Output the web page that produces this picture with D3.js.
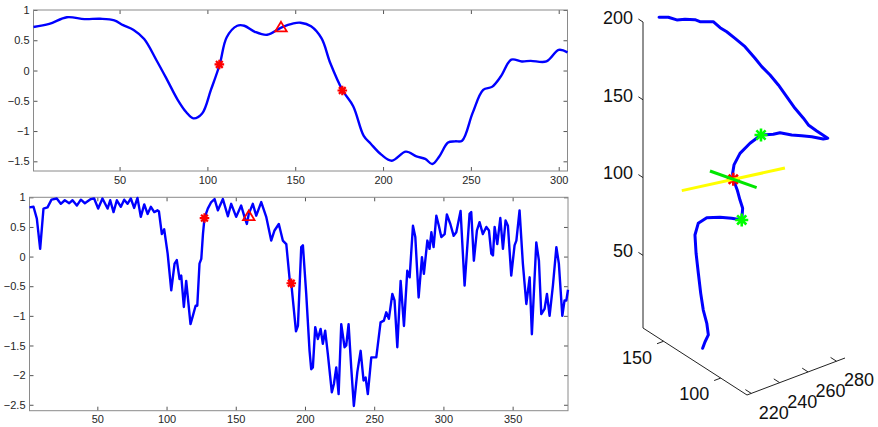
<!DOCTYPE html>
<html>
<head>
<meta charset="utf-8">
<script src="https://d3js.org/d3.v7.min.js"></script>
<style>
  body { margin: 0; background: #fff; }
  svg { font-family: "Liberation Sans", Arial, sans-serif; }
</style>
</head>
<body>
<div id="chart"></div>
<script>
// top panel: smoothed signal
const topX = [1, 10, 20, 30, 39, 47, 52, 58, 64, 71, 77, 83, 88, 92, 97, 102, 107, 111, 117, 121, 127, 134, 142, 149, 153, 159, 165, 170, 177, 183, 189, 193, 199, 205, 213, 219, 224, 228, 232, 237, 241, 245, 251, 257, 262, 267, 273, 279, 284, 293, 300, 305];
const topY = [0.72, 0.77, 0.88, 0.85, 0.855, 0.83, 0.75, 0.67, 0.52, 0.17, -0.15, -0.48, -0.69, -0.79, -0.71, -0.32, 0.1, 0.55, 0.74, 0.74, 0.64, 0.59, 0.71, 0.78, 0.79, 0.73, 0.53, 0.12, -0.33, -0.59, -1.08, -1.21, -1.39, -1.49, -1.34, -1.42, -1.46, -1.545, -1.42, -1.19, -1.17, -1.16, -0.70, -0.32, -0.27, -0.10, 0.18, 0.15, 0.16, 0.15, 0.34, 0.30];
const topStars = [[106.8, 0.10], [176.8, -0.33]];
const topTri = [[141.9, 0.71]];
const topXTicks = [50, 100, 150, 200, 250, 300];
const topYTicks = [-1.5, -1, -0.5, 0, 0.5, 1];

// bottom panel: raw signal
const botX = [1, 3.9, 6.3, 8.7, 11.1, 14, 16.9, 20.7, 23.6, 26.5, 29.7, 32.1, 35.2, 38.1, 41, 45.3, 47.7, 50.6, 53.7, 57.4, 59.3, 61.7, 64.1, 67, 69.4, 71.8, 74.2, 76.6, 79, 81.4, 83.9, 86.3, 88.7, 91.1, 93.5, 94.5, 96.6, 98.3, 100.8, 103.4, 105.8, 107.4, 109.4, 110.6, 112.5, 114.2, 117.3, 119, 121, 122.2, 123.8, 125.1, 126.3, 127.4, 129.8, 132.3, 134.7, 137.1, 140.7, 144.3, 146.7, 150.3, 153.9, 156.3, 158, 159.4, 162.3, 164.8, 168.4, 172, 175.6, 178, 181.1, 184, 186.5, 189, 190.1, 193.5, 194.9, 197.3, 198.5, 200.9, 203.3, 204.5, 205.7, 207.4, 209.3, 211.3, 212.9, 214.6, 216.5, 219.4, 220.9, 222.6, 224.3, 226.2, 228.6, 229.8, 231.5, 233.4, 235.3, 237.8, 240.2, 242.3, 243.8, 245.4, 247.9, 251.5, 254.6, 257, 258.7, 260.6, 263.1, 264.7, 266.7, 269.1, 271.5, 273.9, 275.6, 278, 279.7, 282.1, 284.5, 285.9, 288.4, 290, 291.3, 292.9, 294.9, 296.7, 298.5, 300.9, 302.5, 305, 307.4, 309.3, 312.4, 315.3, 318.9, 320.1, 322, 324.2, 326.1, 328.5, 331, 332.9, 334.6, 335.8, 337, 338.9, 341.1, 343, 344.9, 346.6, 349, 351.4, 352.7, 355, 357.4, 359.9, 362.3, 363.9, 367.1, 369, 370.7, 373.1, 374.8, 376.7, 379.1, 381.6, 383.4, 385.9, 387.5, 388.8, 390];
const botY = [0.83, 0.84, 0.64, 0.13, 0.81, 0.83, 0.96, 0.98, 0.89, 0.95, 0.90, 0.95, 0.86, 0.96, 0.90, 0.97, 0.98, 0.81, 0.98, 0.81, 0.95, 0.75, 0.95, 0.84, 0.96, 0.89, 0.98, 0.82, 0.99, 0.67, 0.88, 0.72, 0.84, 0.75, 0.78, 0.76, 0.38, 0.46, 0.05, -0.57, -0.12, -0.06, -0.38, -0.32, -0.85, -0.41, -1.14, -1.0, -0.83, -0.83, -0.12, -0.04, 0.38, 0.65, 0.81, 0.92, 0.97, 0.78, 0.97, 0.68, 0.89, 0.67, 0.86, 0.67, 0.55, 0.72, 0.89, 0.69, 0.92, 0.67, 0.27, 0.44, 0.55, 0.27, 0.21, -0.40, -0.45, -1.26, -1.17, 0.16, 0.19, -0.63, -1.59, -1.90, -1.87, -1.19, -1.39, -1.22, -1.47, -1.25, -1.64, -2.29, -2.15, -1.87, -2.32, -1.14, -1.53, -1.50, -1.14, -1.87, -2.52, -1.95, -1.59, -2.09, -2.04, -2.32, -1.70, -1.70, -1.11, -1.08, -0.94, -1.05, -0.63, -0.74, -1.53, -0.41, -1.17, -0.24, -0.35, 0.52, 0.33, -0.69, -0.01, -0.29, 0.27, 0.13, 0.41, 0.16, 0.69, 0.52, 0.33, 0.38, 0.71, 0.55, 0.35, 0.41, 0.77, -0.49, 0.72, 0.75, -0.07, 0.44, 0.58, 0.38, 0.50, 0.44, 0.05, 0.02, 0.50, 0.21, 0.65, 0.13, 0.61, 0.52, -0.32, 0.19, 0.27, 0.78, -0.12, -0.80, -0.35, -1.31, 0.24, -0.07, -0.97, -0.88, -0.63, -1.0, -0.49, 0.16, -0.12, -1.0, -0.74, -0.74, -0.56];
const botStars = [[127.4, 0.65], [190.1, -0.45]];
const botTri = [[159.4, 0.68]];
const botXTicks = [50, 100, 150, 200, 250, 300, 350];
const botYTicks = [-2.5, -2, -1.5, -1, -0.5, 0, 0.5, 1];

// right panel: 3d trajectory
const trajX = [228.3, 234.8, 240.4, 246.0, 252.7, 256.0, 265.0, 266.3, 267.5, 269.0, 270.8, 272.6, 273.9, 275.4, 276.9, 278.4, 279.9, 281.5, 282.4, 283.9, 284.8, 285.9, 284.3, 277.6, 272.0, 266.5, 259.7, 256.5, 249.3, 243.1, 237.5, 234.8, 235.3, 237.2, 241.5, 244.9, 248.3, 249.1, 243.5, 236.8, 228.9, 223.3, 221.4, 222.5, 224.5, 226.5, 228.7, 231.5, 233.0, 231.0, 229.7];
const trajY = [168.0, 168.0, 167.5, 167.3, 166.9, 166.6, 166.2, 161.8, 157.5, 152.1, 145.6, 139.1, 134.8, 129.4, 124.0, 118.6, 113.2, 107.8, 104.6, 99.1, 95.9, 92.0, 93.9, 95.7, 97.5, 99.4, 101.2, 103.1, 104.9, 106.8, 108.6, 110.5, 112.3, 114.1, 116.0, 117.8, 119.7, 121.5, 123.4, 125.2, 127.0, 127.5, 128.0, 128.4, 128.9, 129.3, 129.8, 130.2, 130.7, 131.1, 131.6];
const trajZ = [199.1, 196.9, 193.5, 192.1, 189.7, 187.4, 184.5, 182.3, 181.3, 179.1, 176.2, 171.2, 167.4, 164.1, 159.7, 154.2, 148.8, 144.4, 141.3, 139.5, 138.6, 137.5, 136.7, 139.6, 141.3, 142.8, 145.7, 144.9, 146.1, 142.0, 136.6, 129.2, 122.8, 117.4, 108.2, 99.7, 92.3, 83.7, 85.8, 87.9, 89.5, 87.6, 80.5, 68.2, 54.4, 40.6, 28.9, 19.2, 11.0, 7.1, 3.1];
const greenStars3 = [[249.3, 104.9, 146.1], [249.1, 121.5, 83.7]];
const redStar3 = [[237.2, 114.1, 117.4]];
const yellowSeg = [[220.5, 138.4, 104.4], [254.0, 89.8, 130.4]];
const greenSeg = [[232.6, 128.8, 117.4], [241.9, 99.5, 117.4]];
const xTicks3 = [220, 240, 260, 280];
const yTicks3 = [100, 150];
const zTicks3 = [50, 100, 150, 200];

const W = 878, H = 427;
const svg = d3.select("#chart").append("svg").attr("width", W).attr("height", H);

const fmt = d => (d < 0 ? "\u2212" : "") + Math.abs(d);

// 8-arm asterisk like matlab '*'
function asterisk(r) {
  const d = r * Math.SQRT1_2;
  return `M${-r},0L${r},0M0,${-r}L0,${r}M${-d},${-d}L${d},${d}M${-d},${d}L${d},${-d}`;
}
function triangle(w, h) {
  return `M0,${-h * 0.6}L${w / 2},${h * 0.4}L${-w / 2},${h * 0.4}Z`;
}

function panel(cfg) {
  const g = svg.append("g");
  const x = d3.scaleLinear().domain(cfg.xDomain).range([cfg.left, cfg.right]);
  const y = d3.scaleLinear().domain(cfg.yDomain).range([cfg.bottom, cfg.top]);

  g.append("g").attr("transform", `translate(0,${cfg.bottom})`)
    .call(d3.axisBottom(x).tickValues(cfg.xTicks).tickSize(-4).tickPadding(5).tickFormat(fmt));
  g.append("g").attr("transform", `translate(${cfg.left},0)`)
    .call(d3.axisLeft(y).tickValues(cfg.yTicks).tickSize(-4).tickPadding(4).tickFormat(fmt));
  g.append("g").attr("transform", `translate(0,${cfg.top})`)
    .call(d3.axisTop(x).tickValues(cfg.xTicks).tickSize(-4).tickFormat(() => ""));
  g.append("g").attr("transform", `translate(${cfg.right},0)`)
    .call(d3.axisRight(y).tickValues(cfg.yTicks).tickSize(-4).tickFormat(() => ""));
  g.selectAll(".domain").remove();
  g.selectAll(".tick line").attr("stroke", "#555");
  g.selectAll(".tick text").attr("fill", "#262626").style("font-size", "11px")
    .style("font-family", '"Liberation Sans", Arial, sans-serif');

  g.append("rect")
    .attr("x", cfg.left).attr("y", cfg.top)
    .attr("width", cfg.right - cfg.left).attr("height", cfg.bottom - cfg.top)
    .attr("fill", "none").attr("stroke", "#8a8a8a").attr("stroke-width", 1);

  const pts = cfg.xs.map((v, i) => [v, cfg.ys[i]]);
  const line = d3.line().x(d => x(d[0])).y(d => y(d[1])).curve(cfg.curve);
  g.append("path").datum(pts).attr("d", line)
    .attr("fill", "none").attr("stroke", "#0000ff").attr("stroke-width", 2.4)
    .attr("stroke-linejoin", "round");

  g.selectAll(".star").data(cfg.stars).join("path")
    .attr("transform", d => `translate(${x(d[0])},${y(d[1])})`)
    .attr("d", asterisk(4.8))
    .attr("stroke", "#ff0000").attr("stroke-width", 2.2).attr("fill", "none");
  g.selectAll(".tri").data(cfg.tri).join("path")
    .attr("transform", d => `translate(${x(d[0])},${y(d[1])})`)
    .attr("d", triangle(11.5, 9.5))
    .attr("stroke", "#ff0000").attr("stroke-width", 1.8).attr("fill", "none");
}

panel({
  left: 33.5, right: 567.5, top: 10, bottom: 171,
  xDomain: [1, 305], yDomain: [-1.66, 1],
  xTicks: topXTicks, yTicks: topYTicks,
  xs: topX, ys: topY, curve: d3.curveCatmullRom.alpha(0.5),
  stars: topStars, tri: topTri
});

panel({
  left: 29.5, right: 568, top: 197.3, bottom: 410.7,
  xDomain: [1, 390], yDomain: [-2.6, 1],
  xTicks: botXTicks, yTicks: botYTicks,
  xs: botX, ys: botY, curve: d3.curveLinear,
  stars: botStars, tri: botTri
});

// ---- 3d panel ----
const x3 = d3.scaleLinear().domain([217, 286]).range([0, 1]);
const y3 = d3.scaleLinear().domain([77, 168]).range([0, 1]);
const z3 = d3.scaleLinear().domain([3.3, 200]).range([0, 1]);
const origin = [747, 395], ex = [98, -37], ey = [-104, -67], ez = [0, -306];

function proj(p) {
  const a = x3(p[0]), b = y3(p[1]), c = z3(p[2]);
  return [origin[0] + a * ex[0] + b * ey[0] + c * ez[0],
          origin[1] + a * ex[1] + b * ey[1] + c * ez[1]];
}
function unit(v) { const l = Math.hypot(v[0], v[1]); return [v[0] / l, v[1] / l]; }

const g3 = svg.append("g");
const xMin = 217, xMax = 286, yMin = 77, yMax = 168, zMin = 3.3, zMax = 200;
const axisLines = [
  [[xMin, yMax, zMin], [xMin, yMax, zMax]],
  [[xMin, yMax, zMin], [xMin, yMin, zMin]],
  [[xMin, yMin, zMin], [xMax, yMin, zMin]]
];
g3.selectAll(".ax").data(axisLines).join("line")
  .attr("x1", d => proj(d[0])[0]).attr("y1", d => proj(d[0])[1])
  .attr("x2", d => proj(d[1])[0]).attr("y2", d => proj(d[1])[1])
  .attr("stroke", "#222").attr("stroke-width", 1);

const uy = unit(ey), ux = unit(ex), tl = 5.5;
// z ticks
const zt = g3.selectAll(".zt").data(zTicks3).join("g");
zt.append("line")
  .attr("x1", d => proj([xMin, yMax, d])[0]).attr("y1", d => proj([xMin, yMax, d])[1])
  .attr("x2", d => proj([xMin, yMax, d])[0] + uy[0] * tl).attr("y2", d => proj([xMin, yMax, d])[1] + uy[1] * tl)
  .attr("stroke", "#222");
zt.append("text")
  .attr("x", d => proj([xMin, yMax, d])[0] - 10).attr("y", d => proj([xMin, yMax, d])[1] - 3)
  .attr("text-anchor", "end").attr("dominant-baseline", "middle")
  .style("font-size", "18px").attr("fill", "#111").text(d => d);

// y ticks
const yt = g3.selectAll(".yt").data(yTicks3).join("g");
yt.append("line")
  .attr("x1", d => proj([xMin, d, zMin])[0]).attr("y1", d => proj([xMin, d, zMin])[1])
  .attr("x2", d => proj([xMin, d, zMin])[0] - ux[0] * 7).attr("y2", d => proj([xMin, d, zMin])[1] - ux[1] * 7)
  .attr("stroke", "#222");
yt.append("text")
  .attr("x", d => proj([xMin, d, zMin])[0] - 26.5).attr("y", d => proj([xMin, d, zMin])[1] + 17.5)
  .attr("text-anchor", "middle").attr("dominant-baseline", "middle")
  .style("font-size", "18px").attr("fill", "#111").text(d => d);

// x ticks
const xt = g3.selectAll(".xt").data(xTicks3).join("g");
xt.append("line")
  .attr("x1", d => proj([d, yMin, zMin])[0]).attr("y1", d => proj([d, yMin, zMin])[1])
  .attr("x2", d => proj([d, yMin, zMin])[0] + uy[0] * 7).attr("y2", d => proj([d, yMin, zMin])[1] + uy[1] * 7)
  .attr("stroke", "#222");
xt.append("text")
  .attr("x", d => proj([d, yMin, zMin])[0] + 22.5).attr("y", d => proj([d, yMin, zMin])[1] + 20.5)
  .attr("text-anchor", "middle").attr("dominant-baseline", "middle")
  .style("font-size", "18px").attr("fill", "#111").text(d => d);

// trajectory
const traj = trajX.map((v, i) => [v, trajY[i], trajZ[i]]);
g3.append("path").datum(traj)
  .attr("d", d3.line().x(d => proj(d)[0]).y(d => proj(d)[1]))
  .attr("fill", "none").attr("stroke", "#0000ff").attr("stroke-width", 3)
  .attr("stroke-linejoin", "round").attr("stroke-linecap", "round");

g3.selectAll(".rs").data(redStar3).join("path")
  .attr("transform", d => `translate(${proj(d)[0]},${proj(d)[1]})`)
  .attr("d", asterisk(6.5))
  .attr("stroke", "#ff0000").attr("stroke-width", 2.6).attr("fill", "none");

const segs = [{ p: yellowSeg, c: "#ffff00" }, { p: greenSeg, c: "#00e600" }];
g3.selectAll(".seg").data(segs).join("line")
  .attr("x1", d => proj(d.p[0])[0]).attr("y1", d => proj(d.p[0])[1])
  .attr("x2", d => proj(d.p[1])[0]).attr("y2", d => proj(d.p[1])[1])
  .attr("stroke", d => d.c).attr("stroke-width", 3);

g3.selectAll(".gs").data(greenStars3).join("path")
  .attr("transform", d => `translate(${proj(d)[0]},${proj(d)[1]})`)
  .attr("d", asterisk(6.5))
  .attr("stroke", "#00ff00").attr("stroke-width", 2.6).attr("fill", "none");
</script>
</body>
</html>
